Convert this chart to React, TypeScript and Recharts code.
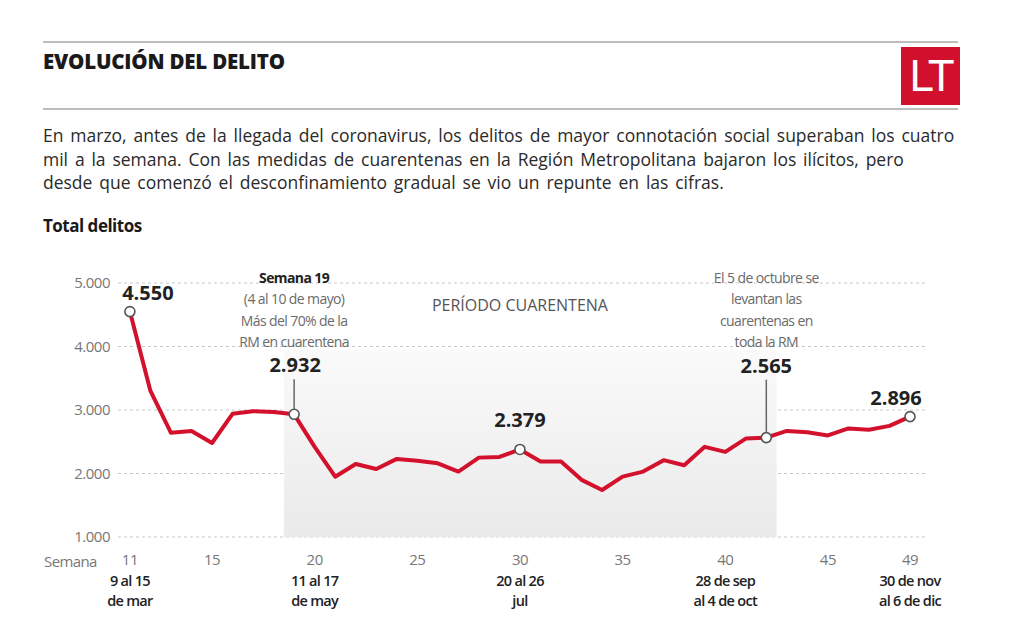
import React from 'react';
import {
  LineChart,
  Line,
  XAxis,
  YAxis,
  CartesianGrid,
  ReferenceArea,
} from 'recharts';

// semana del año
const weeks = [
  11, 12, 13, 14, 15, 16, 17, 18, 19, 20, 21, 22, 23, 24, 25, 26, 27, 28, 29, 30,
  31, 32, 33, 34, 35, 36, 37, 38, 39, 40, 41, 42, 43, 44, 45, 46, 47, 48, 49,
];

// total delitos por semana
const totals = [
  4550, 3300, 2640, 2670, 2480, 2940, 2980, 2970, 2932, 2420, 1950, 2150, 2070, 2230,
  2200, 2160, 2030, 2250, 2260, 2379, 2190, 2190, 1900, 1740, 1950, 2030, 2210, 2130,
  2420, 2340, 2550, 2565, 2670, 2650, 2600, 2710, 2690, 2750, 2896,
];

const xTicks = [11, 15, 20, 25, 30, 35, 40, 45, 49];
const yTicks = [1000, 2000, 3000, 4000, 5000];

const dateLabels: Record<number, string[]> = {
  11: ['9 al 15', 'de mar'],
  20: ['11 al 17', 'de may'],
  30: ['20 al 26', 'jul'],
  40: ['28 de sep', 'al 4 de oct'],
  49: ['30 de nov', 'al 6 de dic'],
};

const highlightWeeks = [11, 19, 30, 42, 49];
const quarantineStart = 18.5;
const quarantineEnd = 42.5;

const noteWeek19 = ['Semana 19', '(4 al 10 de mayo)', 'Más del 70% de la', 'RM en cuarentena'];
const noteWeek42 = ['El 5 de octubre se', 'levantan las', 'cuarentenas en', 'toda la RM'];

const data = weeks.map((w, i) => ({ week: w, total: totals[i] }));

const fmt = (n: number) => String(n).replace(/\B(?=(\d{3})+(?!\d))/g, '.');

const FONT = '"Open Sans", "Noto Sans", sans-serif';
const RED = '#d3112c';
const TOP = 283;

// label placement per highlighted week
const labelPos: Record<number, { dx: number; dy: number; stem?: number }> = {
  11: { dx: 18, dy: -19 },
  19: { dx: 1, dy: -50, stem: 35 },
  30: { dx: 0, dy: -30 },
  42: { dx: 0, dy: -72, stem: 58 },
  49: { dx: -14, dy: -19 },
};

const noteLines = (lines: string[], x: number, boldFirst: boolean) =>
  lines.map((t, i) => (
    <text
      key={t}
      x={x}
      y={TOP - 6 + [0, 21, 43, 64][i]}
      textAnchor="middle"
      dominantBaseline="central"
      fontFamily={FONT}
      fontSize={14}
      fontWeight={boldFirst && i === 0 ? 700 : 400}
      letterSpacing={-0.6}
      fill={boldFirst && i === 0 ? '#222' : '#6b6b6b'}
    >
      {t}
    </text>
  ));

const ValueLabel = (props: any) => {
  const { x, y, index } = props;
  const week = weeks[index];
  const pos = labelPos[week];
  if (!pos) return null;
  return (
    <g>
      {pos.stem && (
        <line x1={x} x2={x} y1={y - pos.stem} y2={y - 5} stroke="#666" strokeWidth={1.5} />
      )}
      <text
        x={x + pos.dx}
        y={y + pos.dy}
        textAnchor="middle"
        dominantBaseline="central"
        fontFamily={FONT}
        fontSize={20}
        fontWeight={700}
        fill="#222"
      >
        {fmt(totals[index])}
      </text>
      {week === 19 && noteLines(noteWeek19, x, true)}
      {week === 42 && noteLines(noteWeek42, x, false)}
      {week === 30 && (
        <text
          x={x}
          y={TOP + 22}
          textAnchor="middle"
          dominantBaseline="central"
          fontFamily={FONT}
          fontSize={16}
          fill="#555"
        >
          PERÍODO CUARENTENA
        </text>
      )}
    </g>
  );
};

const Dot = (props: any) => {
  const { cx, cy, index } = props;
  if (!highlightWeeks.includes(weeks[index])) return <g key={`d-${index}`} />;
  return (
    <circle key={`d-${index}`} cx={cx} cy={cy} r={5} fill="#fff" stroke="#555" strokeWidth={1.6} />
  );
};

const WeekTick = (props: any) => {
  const { x, y, payload } = props;
  const lines = dateLabels[payload.value];
  return (
    <g>
      <text x={x} y={y} dy="0.71em" textAnchor="middle" fontFamily={FONT} fontSize={15} fill="#777" letterSpacing={-0.5}>
        {payload.value}
      </text>
      {lines &&
        lines.map((t, i) => (
          <text
            key={t}
            x={x}
            y={y + 22 + i * 20}
            dy="0.71em"
            textAnchor="middle"
            fontFamily={FONT}
            fontSize={14.5}
            fontWeight={600}
            letterSpacing={-0.7}
            fill="#222"
          >
            {t}
          </text>
        ))}
    </g>
  );
};

export default function App() {
  return (
    <div
      style={{
        position: 'absolute',
        left: 0,
        top: 0,
        width: 1024,
        height: 626,
        background: '#fff',
        fontFamily: FONT,
        overflow: 'hidden',
      }}
    >
      <div style={{ position: 'absolute', left: 43, top: 41, width: 915, height: 2, background: '#bdbdbd' }} />
      <div style={{ position: 'absolute', left: 43, top: 108, width: 915, height: 2, background: '#bdbdbd' }} />
      <div
        style={{
          position: 'absolute',
          left: 43,
          top: 47,
          fontSize: 20.5,
          fontWeight: 800,
          color: '#1a1a1a',
          letterSpacing: -0.2,
        }}
      >
        EVOLUCIÓN DEL DELITO
      </div>
      <div
        style={{
          position: 'absolute',
          left: 901,
          top: 47,
          width: 59,
          height: 58,
          background: '#d0102c',
          color: '#fff',
          fontSize: 44,
          fontWeight: 400,
          lineHeight: '58px',
          textAlign: 'center',
          letterSpacing: -3,
          fontFamily: '"Liberation Sans", Arial, sans-serif',
        }}
      >
        LT
      </div>
      <div
        style={{
          position: 'absolute',
          left: 43,
          top: 124,
          fontSize: 17.5,
          lineHeight: '23.5px',
          color: '#2a2a2a',
          letterSpacing: 0,
          wordSpacing: 2.3,
          whiteSpace: 'nowrap',
        }}
      >
        En marzo, antes de la llegada del coronavirus, los delitos de mayor connotación social superaban los cuatro
        <br />
        mil a la semana. Con las medidas de cuarentenas en la Región Metropolitana bajaron los ilícitos, pero
        <br />
        desde que comenzó el desconfinamiento gradual se vio un repunte en las cifras.
      </div>
      <div
        style={{
          position: 'absolute',
          left: 43,
          top: 214,
          fontSize: 17,
          fontWeight: 700,
          color: '#1a1a1a',
          letterSpacing: -0.5,
        }}
      >
        Total delitos
      </div>
      <div
        style={{
          position: 'absolute',
          left: 44,
          top: 551,
          fontSize: 15,
          color: '#777',
          letterSpacing: -0.6,
        }}
      >
        Semana
      </div>
      <div style={{ position: 'absolute', left: 0, top: 0 }}>
        <LineChart
          width={1024}
          height={626}
          data={data}
          margin={{ top: TOP, right: 99, left: 58, bottom: 29 }}
        >
          <defs>
            <linearGradient id="qshade" x1="0" y1="0" x2="0" y2="1">
              <stop offset="0%" stopColor="#fafafa" stopOpacity={1} />
              <stop offset="100%" stopColor="#eaeaea" stopOpacity={1} />
            </linearGradient>
          </defs>
          <ReferenceArea
            x1={quarantineStart}
            x2={quarantineEnd}
            y1={1000}
            y2={3940}
            fill="url(#qshade)"
            fillOpacity={1}
            stroke="none"
            ifOverflow="visible"
          />
          <CartesianGrid vertical={false} stroke="#c9c9c9" strokeDasharray="3 3" />
          <XAxis
            dataKey="week"
            type="number"
            domain={[10.42, 49.73]}
            ticks={xTicks}
            allowDataOverflow
            axisLine={false}
            tickLine={false}
            tickSize={0}
            tickMargin={17}
            height={60}
            interval={0}
            tick={<WeekTick />}
          />
          <YAxis
            domain={[1000, 5000]}
            ticks={yTicks}
            width={60}
            axisLine={false}
            tickLine={false}
            tickSize={0}
            tickMargin={8}
            tickFormatter={fmt}
            tick={{ fill: '#777', fontSize: 15, fontFamily: FONT, letterSpacing: -0.5 }}
          />
          <Line
            type="linear"
            dataKey="total"
            stroke={RED}
            strokeWidth={4}
            strokeLinejoin="round"
            dot={Dot}
            activeDot={false}
            label={ValueLabel}
            isAnimationActive={false}
          />
        </LineChart>
      </div>
    </div>
  );
}
